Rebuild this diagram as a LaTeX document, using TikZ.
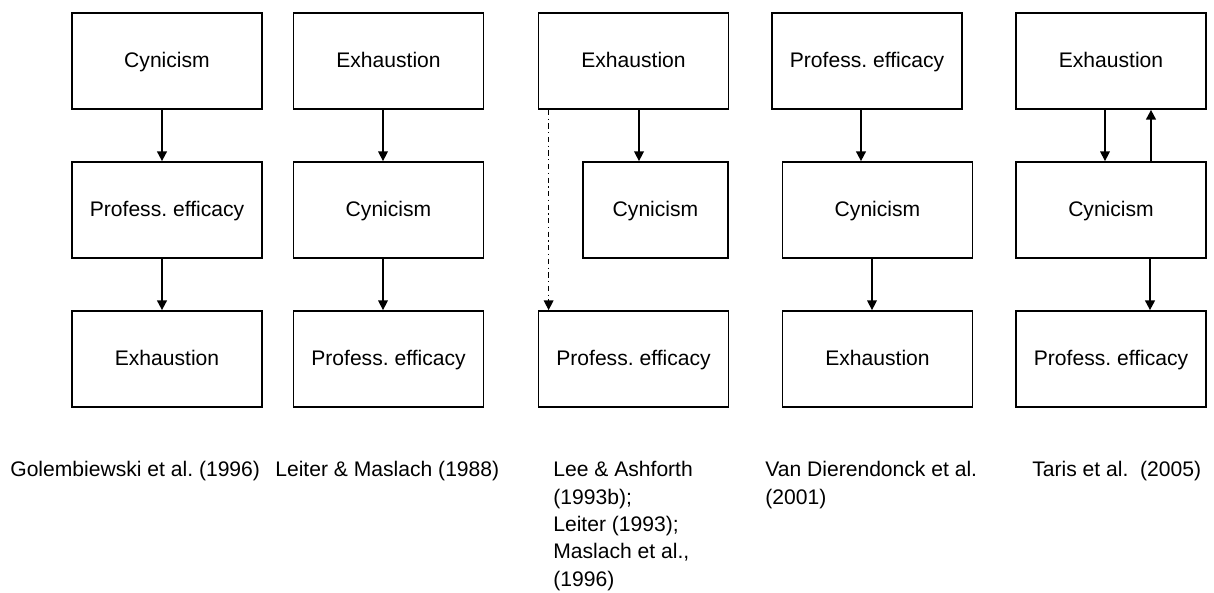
\documentclass[tikz,border=0pt]{standalone}
\usepackage{fontspec}
\setmainfont{Liberation Sans}
\usepackage{tikz}
\usetikzlibrary{shapes,arrows.meta,backgrounds}
\frenchspacing
\tikzset{
  sqbox/.style={ draw, line width=1pt, minimum width=3.8cm, minimum height=1.92cm, inner sep=0pt, text height=1.8ex, text depth=0.5ex }
}
\tikzset{
  sqnarrow/.style={ sqbox, minimum width=2.9cm }
}
\tikzset{
  refnote/.style={ anchor=north west, align=left, inner sep=0pt, font=\fontsize{12}{15.6}\selectfont }
}

\begin{document}
\begin{tikzpicture}[x=0.2mm, y=-0.2mm, >={Triangle[length=5.5pt,width=5.5pt]},
    every node/.style={font=\fontsize{12}{14}\selectfont}]
      \useasboundingbox (0,0) rectangle (1214,592);
      % Golembiewski
      \node[sqbox] (g1) at (167, 61) {Cynicism};
      \node[sqbox] (g2) at (167, 210) {Profess. efficacy};
      \node[sqbox] (g3) at (167, 359) {Exhaustion};
      % Leiter & Maslach
      \node[sqbox] (l1) at (388.5, 61) {Exhaustion};
      \node[sqbox] (l2) at (388.5, 210) {Cynicism};
      \node[sqbox] (l3) at (388.5, 359) {Profess. efficacy};
      % Lee & Ashforth
      \node[sqbox] (a1) at (633.5, 61) {Exhaustion};
      \node[sqnarrow] (a2) at (655.5, 210) {Cynicism};
      \node[sqbox] (a3) at (633.5, 359) {Profess. efficacy};
      % Van Dierendonck
      \node[sqbox] (d1) at (867, 61) {Profess. efficacy};
      \node[sqbox] (d2) at (877.5, 210) {Cynicism};
      \node[sqbox] (d3) at (877.5, 359) {Exhaustion};
      % Taris
      \node[sqbox] (t1) at (1111, 61) {Exhaustion};
      \node[sqbox] (t2) at (1111, 210) {Cynicism};
      \node[sqbox] (t3) at (1111, 359) {Profess. efficacy};

      \draw[->, line width=1pt] ([xshift=-1mm]g1.south) -- ([xshift=-1mm]g2.north);
      \draw[->, line width=1pt] ([xshift=-1mm]g2.south) -- ([xshift=-1mm]g3.north);
      \draw[->, line width=0.7pt] ([xshift=-1.1mm]l1.south) -- ([xshift=-1.1mm]l2.north);
      \draw[->, line width=0.7pt] ([xshift=-1.1mm]l2.south) -- ([xshift=-1.1mm]l3.north);
      \draw[->, line width=0.8pt] ([xshift=1.1mm]a1.south) -- ([xshift=1.1mm]a1.south |- a2.north);
      \draw[->, line width=0.7pt, dash dot] ([xshift=2.2mm]a1.south west) -- ([xshift=2.2mm]a3.north west);
      \draw[->, line width=1pt] ([xshift=-1.2mm]d1.south) -- ([xshift=-1.2mm]d1.south |- d2.north);
      \draw[->, line width=0.7pt] ([xshift=-1.1mm]d2.south) -- ([xshift=-1.1mm]d3.north);
      \draw[->, line width=0.7pt] ([xshift=-1.2mm]t1.south) -- ([xshift=-1.2mm]t2.north);
      \draw[->, line width=1.1pt] ([xshift=8mm]t2.north) -- ([xshift=8mm]t1.south);
      \draw[->, line width=1.1pt] ([xshift=7.8mm]t2.south) -- ([xshift=7.8mm]t3.north);

      \node[refnote] (rg) at (10, 461) {Golembiewski et al. (1996)};
      \node[refnote] (rl) at (275, 461) {Leiter \& Maslach (1988)};
      \node[refnote] (ra) at (553, 461) {Lee \& Ashforth\\(1993b);\\Leiter (1993);\\Maslach et al.,\\(1996)};
      \node[refnote] (rd) at (765, 461) {Van Dierendonck et al.\\(2001)};
      \node[refnote] (rt) at (1032, 461) {Taris et al.\ \ (2005)};
    \end{tikzpicture}
\end{document}
